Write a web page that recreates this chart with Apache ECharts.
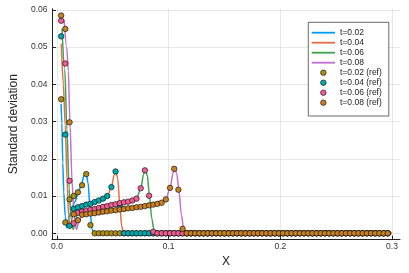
<!DOCTYPE html>
<html>
<head>
<meta charset="utf-8">
<script src="https://cdn.jsdelivr.net/npm/echarts@6/dist/echarts.min.js"></script>
<style>
html,body{margin:0;padding:0;background:#fff;}
#chart{width:409px;height:273px;}
</style>
</head>
<body>
<div id="chart"></div>
<script>
// ---- data ----
const refX = [0.00375,0.0075,0.01125,0.015,0.01875,0.0225,0.02625,0.03,0.03375,0.0375,
0.04125,0.045,0.04875,0.0525,0.05625,0.06,0.06375,0.0675,0.07125,0.075,
0.07875,0.0825,0.08625,0.09,0.09375,0.0975,0.10125,0.105,0.10875,0.1125,
0.11625,0.12,0.12375,0.1275,0.13125,0.135,0.13875,0.1425,0.14625,0.15,
0.15375,0.1575,0.16125,0.165,0.16875,0.1725,0.17625,0.18,0.18375,0.1875,
0.19125,0.195,0.19875,0.2025,0.20625,0.21,0.21375,0.2175,0.22125,0.225,
0.22875,0.2325,0.23625,0.24,0.24375,0.2475,0.25125,0.255,0.25875,0.2625,
0.26625,0.27,0.27375,0.2775,0.28125,0.285,0.28875,0.2925,0.29625];

const ref002 = [0.0360,0.0029,0.0091,0.0100,0.0110,0.0129,0.0159,0.0022,
0,0,0,0,0,0,0,0,0,0, 0,0,0,0,0,0,0,0,0,0, 0,0,0,0,0,0,0,0,0,0,
0,0,0,0,0,0,0,0,0,0, 0,0,0,0,0,0,0,0,0,0, 0,0,0,0,0,0,0,0,0,0,
0,0,0,0,0,0,0,0,0,0, 0];
const ref004 = [0.0529,0.0265,0.0020,0.0066,0.0070,0.0073,0.0077,0.0079,0.0084,0.0088,
0.0093,0.0100,0.0124,0.0166,0.0076,
0,0,0,0,0,0,0,0,0,0, 0,0,0,0,0,0,0,0,0,0, 0,0,0,0,0,0,0,0,0,0,
0,0,0,0,0,0,0,0,0,0, 0,0,0,0,0,0,0,0,0,0, 0,0,0,0,0,0,0,0,0,0, 0,0,0,0];
const ref006 = [0.0571,0.0456,0.0141,0.0027,0.0055,0.0058,0.0060,0.0063,0.0065,0.0068,
0.0071,0.0073,0.0076,0.0078,0.0081,0.0083,0.0085,0.0088,0.0093,0.0121,
0.0169,0.0101,0.0004,
0,0,0,0,0,0,0,0,0,0, 0,0,0,0,0,0,0,0,0,0, 0,0,0,0,0,0,0,0,0,0,
0,0,0,0,0,0,0,0,0,0, 0,0,0,0,0,0,0,0,0,0, 0,0,0,0,0,0];
const ref008 = [0.0585,0.0549,0.0298,0.0051,0.0035,0.0050,0.0051,0.0053,0.0054,0.0056,
0.0058,0.0059,0.0061,0.0062,0.0064,0.0065,0.0067,0.0068,0.0070,0.0071,
0.0073,0.0075,0.0077,0.0079,0.0082,0.0091,0.0122,0.0173,0.0117,0.0012,
0,0,0,0,0,0,0,0,0,0, 0,0,0,0,0,0,0,0,0,0, 0,0,0,0,0,0,0,0,0,0,
0,0,0,0,0,0,0,0,0,0, 0,0,0,0,0,0,0,0,0];

const lineX002 = [0.0037,0.0044,0.0052,0.0061,0.0074,0.0087,0.0104,0.0137,0.0161,0.0189,
0.0218,0.0246,0.0261,0.0279,0.0296,0.0313,0.0331,0.2996];
const lineY002 = [0.0348,0.0296,0.0190,0.0110,0.0045,0.0015,0.0040,0.0070,0.0085,0.0106,
0.0132,0.0158,0.0161,0.0135,0.0065,0.0012,0,0];

const lineX004 = [0.0039,0.0057,0.0074,0.0091,0.0104,0.0116,0.0131,0.0150,0.0187,0.0263,
0.0338,0.0413,0.0453,0.0487,0.0514,0.0527,0.0544,0.0562,0.0579,0.0596,0.2996];
const lineY004 = [0.0509,0.0400,0.0290,0.0140,0.0050,0.0012,0.0035,0.0063,0.0069,0.0076,
0.0084,0.0093,0.0101,0.0124,0.0158,0.0166,0.0148,0.0080,0.0020,0,0];

const lineX006 = [0.0045,0.0070,0.0089,0.0109,0.0126,0.0145,0.0165,0.0187,0.0263,0.0338,
0.0413,0.0487,0.0562,0.0637,0.0675,0.0714,0.0751,0.0777,0.0792,0.0809,
0.0827,0.0849,0.0870,0.0892,0.2996];
const lineY006 = [0.0549,0.0440,0.0280,0.0120,0.0040,0.0010,0.0035,0.0053,0.0060,0.0065,
0.0071,0.0076,0.0081,0.0085,0.0088,0.0095,0.0121,0.0160,0.0169,0.0155,
0.0105,0.0040,0.0006,0,0];

const lineX008 = [0.0064,0.0087,0.0102,0.0116,0.0135,0.0152,0.0174,0.0196,0.0222,0.0300,
0.0413,0.0525,0.0637,0.0749,0.0863,0.0937,0.0975,0.1014,0.1040,0.1056,
0.1073,0.1092,0.1114,0.1136,0.1158,0.2996];
const lineY008 = [0.0574,0.0500,0.0437,0.0296,0.0140,0.0050,0.0010,0.0030,0.0048,0.0053,
0.0058,0.0062,0.0067,0.0072,0.0078,0.0083,0.0092,0.0123,0.0162,0.0174,
0.0160,0.0115,0.0050,0.0008,0,0];

const lineNames = ['t=0.02','t=0.04','t=0.06','t=0.08'];
const refNames = ['t=0.02 (ref)','t=0.04 (ref)','t=0.06 (ref)','t=0.08 (ref)'];
const xTicks = [0, 0.1, 0.2, 0.3];
const yTicks = [0, 0.01, 0.02, 0.03, 0.04, 0.05, 0.06];
const xTitle = 'X';
const yTitle = 'Standard deviation';

// ---- styles ----
const lineColors = ['#009AF9','#E26F46','#3DA44D','#C271D2'];
const refColors = ['#AC8D18','#00A9AD','#ED5E93','#C68125'];
const FONT = '"Liberation Sans", Arial, sans-serif';
const LINE_ICON = 'path://M0,0 L23,0 L23,1.8 L0,1.8 Z';

function zip(xs, ys) {
  const n = Math.min(xs.length, ys.length);
  const out = [];
  for (let i = 0; i < n; i++) out.push([xs[i], ys[i]]);
  return out;
}

const lineData = [zip(lineX002,lineY002), zip(lineX004,lineY004), zip(lineX006,lineY006), zip(lineX008,lineY008)];
const refData = [zip(refX,ref002), zip(refX,ref004), zip(refX,ref006), zip(refX,ref008)];

const series = [];
lineNames.forEach((nm, k) => {
  series.push({
    name: nm, type: 'line', data: lineData[k], symbol: 'none',
    smooth: 0.3, smoothMonotone: 'x',
    lineStyle: { color: lineColors[k], width: 1.5 },
    itemStyle: { color: lineColors[k] },
    z: 2
  });
});
refNames.forEach((nm, k) => {
  series.push({
    name: nm, type: 'scatter', data: refData[k], symbol: 'circle', symbolSize: 5.5,
    itemStyle: { color: refColors[k], borderColor: 'rgba(0,0,0,0.85)', borderWidth: 0.7, opacity: 1 },
    z: 3
  });
});

const chart = echarts.init(document.getElementById('chart'), null, { renderer: 'canvas' });
chart.setOption({
  animation: false,
  backgroundColor: '#fff',
  textStyle: { fontFamily: FONT },
  grid: { left: 42, right: 9, top: 8.8, bottom: 29.9, containLabel: false },
  xAxis: {
    type: 'value', min: -0.0045, max: 0.3072,
    name: xTitle, nameLocation: 'middle', nameGap: 12,
    nameTextStyle: { fontSize: 12, color: '#222', fontFamily: FONT },
    axisLine: { show: true, onZero: false, lineStyle: { color: '#222', width: 1 } },
    axisTick: { show: true, inside: true, length: 4, customValues: xTicks, lineStyle: { color: '#222' } },
    axisLabel: { customValues: xTicks, formatter: v => v.toFixed(1), fontSize: 8.5, color: '#333', margin: 2.5, fontFamily: FONT },
    splitLine: { show: true, lineStyle: { color: 'rgba(0,0,0,0.09)', width: 1 } }
  },
  yAxis: {
    type: 'value', min: -0.0017, max: 0.0603,
    name: yTitle, nameLocation: 'middle', nameGap: 24, nameRotate: 90,
    nameTextStyle: { fontSize: 12, color: '#222', fontFamily: FONT },
    axisLine: { show: true, onZero: false, lineStyle: { color: '#222', width: 1 } },
    axisTick: { show: true, inside: true, length: 4, customValues: yTicks, lineStyle: { color: '#222' } },
    axisLabel: { customValues: yTicks, formatter: v => v.toFixed(2), fontSize: 8.5, color: '#333', margin: 4.5, fontFamily: FONT },
    splitLine: { show: true, lineStyle: { color: 'rgba(0,0,0,0.09)', width: 1 } }
  },
  legend: {
    orient: 'vertical', left: 308.3, top: 22.3,
    padding: [5.4, 7, 8.3, 3.4], itemGap: 0, itemWidth: 23.3, itemHeight: 5.5,
    symbolKeepAspect: true,
    borderColor: '#444', borderWidth: 0.8, backgroundColor: '#fff',
    textStyle: { fontSize: 8.5, color: '#222', lineHeight: 10, fontFamily: FONT },
    data: lineNames.map(n => ({ name: n, icon: LINE_ICON }))
      .concat(refNames.map(n => ({ name: n, icon: 'circle', itemStyle: { borderColor: 'rgba(0,0,0,0.85)', borderWidth: 0.7 } })))
  },
  series: series
});
</script>
</body>
</html>
